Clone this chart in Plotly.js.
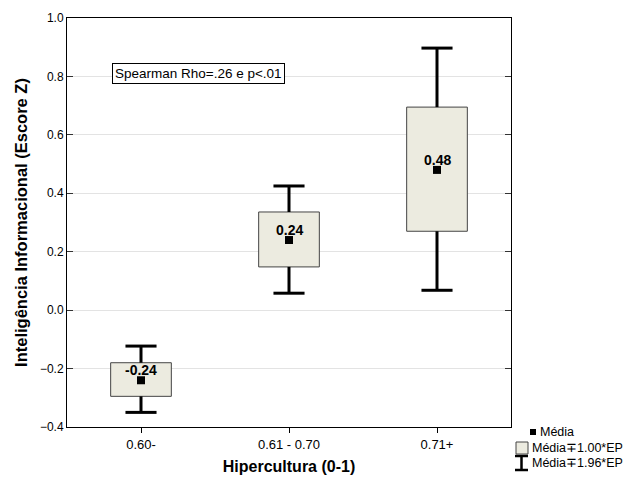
<!DOCTYPE html>
<html>
<head>
<meta charset="utf-8">
<script src="https://cdn.plot.ly/plotly-3.0.1.min.js"></script>
<style>html,body{margin:0;padding:0;background:#fff}</style>
</head>
<body>
<div id="chart" style="width:629px;height:478px"></div>
<script>
const categories = ["0.60-", "0.61 - 0.70", "0.71+"];
const means = [-0.24, 0.24, 0.48];
const boxLow = [-0.295, 0.148, 0.27];
const boxHigh = [-0.18, 0.336, 0.695];
const whiskLow = [-0.35, 0.058, 0.068];
const whiskHigh = [-0.123, 0.425, 0.897];
const meanLabels = ["-0.24", "0.24", "0.48"];
const legendLabels = ["Média", "Média∓1.00*EP", "Média∓1.96*EP"];

const FONT = "Liberation Sans, Arial, sans-serif";
const xs = categories.map((c, i) => i);
const capHalf = 0.105;

const stemX = [], stemY = [], capX = [], capY = [];
xs.forEach((x, i) => {
  stemX.push(x, x, null, x, x, null);
  stemY.push(boxHigh[i], whiskHigh[i], null, boxLow[i], whiskLow[i], null);
  capX.push(x - capHalf, x + capHalf, null, x - capHalf, x + capHalf, null);
  capY.push(whiskHigh[i], whiskHigh[i], null, whiskLow[i], whiskLow[i], null);
});

const traces = [
  {
    type: "bar", x: xs, base: boxLow,
    y: boxHigh.map((h, i) => h - boxLow[i]),
    width: 0.41,
    marker: {color: "#ecebe0", line: {color: "#444", width: 1}},
    hoverinfo: "skip"
  },
  {
    type: "scatter", mode: "lines", x: stemX, y: stemY,
    line: {color: "#000", width: 3}, hoverinfo: "skip"
  },
  {
    type: "scatter", mode: "lines", x: capX, y: capY,
    line: {color: "#000", width: 3}, hoverinfo: "skip"
  },
  {
    type: "scatter", mode: "markers", x: xs, y: means,
    marker: {symbol: "square", size: 8, color: "#000"}
  }
];

// plot area in pixels
const L = 67, R = 511, T = 18, B = 427;
const px = v => (v - L) / (R - L);
const py = v => (B - v) / (B - T);

const annotations = means.map((m, i) => ({
  xref: "x", yref: "y", x: xs[i], y: m, yshift: 10,
  text: meanLabels[i], showarrow: false,
  font: {family: FONT, size: 14, color: "#000", weight: "bold"}
}));
annotations.push({
  xref: "paper", yref: "paper", x: px(112), y: py(74),
  xanchor: "left", yanchor: "middle",
  text: "Spearman Rho=.26 e p<.01",
  showarrow: false, font: {family: FONT, size: 13.5, color: "#000"},
  bordercolor: "#000", borderwidth: 1, borderpad: 2, bgcolor: "#fff"
});
const legY = [432, 448, 463];
const legX = [538, 530, 530];
legendLabels.forEach((t, i) => annotations.push({
  xref: "paper", yref: "paper", x: px(legX[i]), y: py(legY[i]),
  xanchor: "left", yanchor: "middle", text: t, showarrow: false,
  font: {family: FONT, size: 12.5, color: "#000"}
}));

const shapes = [
  {type: "rect", xref: "paper", yref: "paper", x0: px(530), x1: px(536), y0: py(435), y1: py(429),
   fillcolor: "#000", line: {width: 0}},
  {type: "rect", xref: "paper", yref: "paper", x0: px(516), x1: px(528), y0: py(454), y1: py(442),
   fillcolor: "#ecebe0", line: {color: "#444", width: 1}},
  {type: "line", xref: "paper", yref: "paper", x0: px(515), x1: px(528), y0: py(456), y1: py(456),
   line: {color: "#000", width: 2.5}},
  {type: "line", xref: "paper", yref: "paper", x0: px(521.5), x1: px(521.5), y0: py(456), y1: py(470),
   line: {color: "#000", width: 2.5}},
  {type: "line", xref: "paper", yref: "paper", x0: px(515), x1: px(528), y0: py(470), y1: py(470),
   line: {color: "#000", width: 2.5}}
];

const layout = {
  width: 629, height: 478,
  margin: {l: L, r: 629 - R, t: T, b: 478 - B, autoexpand: false},
  paper_bgcolor: "#fff", plot_bgcolor: "#fff",
  font: {family: FONT, size: 12, color: "#000"},
  showlegend: false,
  barmode: "overlay",
  xaxis: {
    range: [-0.5, 2.5],
    tickvals: xs, ticktext: categories,
    ticks: "outside", ticklen: 5, tickcolor: "#000",
    showline: true, linecolor: "#000", linewidth: 1,
    mirror: true, showgrid: false, zeroline: false,
    tickfont: {size: 13},
    title: {text: "Hipercultura (0-1)", font: {size: 16, weight: "bold"}, standoff: 10}
  },
  yaxis: {
    range: [-0.4, 1.0],
    dtick: 0.2, tickformat: ".1f",
    ticks: "inside", ticklen: 6, tickcolor: "#333",
    showline: true, linecolor: "#000", linewidth: 1,
    mirror: "ticks", showgrid: true, gridcolor: "#e3e3e3",
    zeroline: false, tickfont: {size: 12},
    title: {text: "Inteligência Informacional (Escore Z)", font: {size: 16.5, weight: "bold"}, standoff: 8}
  },
  annotations: annotations,
  shapes: shapes
};

Plotly.newPlot("chart", traces, layout, {displayModeBar: false, staticPlot: true});
</script>
</body>
</html>
